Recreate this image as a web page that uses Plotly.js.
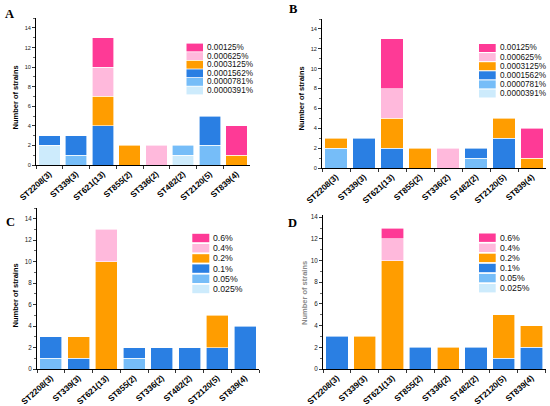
<!DOCTYPE html>
<html><head><meta charset="utf-8">
<script src="https://cdn.plot.ly/plotly-3.0.1.min.js"></script>
<style>html,body{margin:0;padding:0;background:#fff}#chart{width:550px;height:406px}</style>
</head><body><div id="chart"></div>
<script>
// ---- data ----
const categories = ['ST2208(3)','ST339(3)','ST621(13)','ST855(2)','ST336(2)','ST482(2)','ST2120(5)','ST839(4)'];
const labelsAB = ['0.0000391%','0.0000781%','0.0001562%','0.0003125%','0.000625%','0.00125%'];
const labelsCD = ['0.025%','0.05%','0.1%','0.2%','0.4%','0.6%'];
const panelLetters = ['A','B','C','D'];
const yTitle = 'Number of strains';

// Panel A (bottom to top series)
const a_0000391 = [2,0,0,0,0,1,0,0];
const a_0000781 = [0,1,0,0,0,1,2,0];
const a_0001562 = [1,2,4,0,0,0,3,0];
const a_0003125 = [0,0,3,2,0,0,0,1];
const a_000625  = [0,0,3,0,2,0,0,0];
const a_00125   = [0,0,3,0,0,0,0,3];
// Panel B
const b_0000391 = [0,0,0,0,0,0,0,0];
const b_0000781 = [2,0,0,0,0,1,0,0];
const b_0001562 = [0,3,2,0,0,1,3,0];
const b_0003125 = [1,0,3,2,0,0,2,1];
const b_000625  = [0,0,3,0,2,0,0,0];
const b_00125   = [0,0,5,0,0,0,0,3];
// Panel C
const c_025 = [0,0,0,0,0,0,0,0];
const c_05  = [1,0,0,1,0,0,0,0];
const c_1   = [2,1,0,1,2,2,2,4];
const c_2   = [0,2,10,0,0,0,3,0];
const c_4   = [0,0,3,0,0,0,0,0];
const c_6   = [0,0,0,0,0,0,0,0];
// Panel D
const d_025 = [0,0,0,0,0,0,0,0];
const d_05  = [0,0,0,0,0,0,0,0];
const d_1   = [3,0,0,2,0,2,1,2];
const d_2   = [0,3,10,0,2,0,4,2];
const d_4   = [0,0,2,0,0,0,0,0];
const d_6   = [0,0,1,0,0,0,0,0];

// ---- style ----
const colors = ['#CDEBFC','#76BDF8','#2A7FE3','#FF9D00','#FFB9DC','#FE3A96'];
const W = 550, H = 406;
const px = v => v / W, py = v => 1 - v / H;

const panels = [
  {series:[a_0000391,a_0000781,a_0001562,a_0003125,a_000625,a_00125], labels:labelsAB,
   xd:[36,250], yd:[165,18.2], yr:[0,15], tf:5.6,
   leg:{x0:186.5,x1:203,y:47.5,dy:8.6,h:7.8,tx:205.5,fs:8.2},
   title:{x:15,y:97.5,c:'#000'}, letter:{x:9,y:14.5}},
  {series:[b_0000391,b_0000781,b_0001562,b_0003125,b_000625,b_00125], labels:labelsAB,
   xd:[322,546], yd:[168,19], yr:[0,15], tf:5.6,
   leg:{x0:479,x1:495.7,y:48,dy:9.1,h:8,tx:499,fs:8.2},
   title:{x:301.5,y:99,c:'#000'}, letter:{x:292.5,y:9}},
  {series:[c_025,c_05,c_1,c_2,c_4,c_6], labels:labelsCD,
   xd:[37,259], yd:[369,208], yr:[0,15], tf:6.3,
   leg:{x0:192.3,x1:209.3,y:238,dy:10.2,h:8.4,tx:211.7,fs:8.7},
   title:{x:15,y:295.5,c:'#000'}, letter:{x:10,y:221.5}},
  {series:[d_025,d_05,d_1,d_2,d_4,d_6], labels:labelsCD,
   xd:[323,545.5], yd:[369,215], yr:[0,14.2], tf:6.3,
   leg:{x0:479,x1:495.7,y:237.7,dy:10.1,h:8.4,tx:499,fs:8.7},
   title:{x:304,y:293,c:'#888'}, letter:{x:292.5,y:223}}
];

const traces = [], shapes = [], annotations = [];
const layout = {
  width: W, height: H, margin:{l:0,r:0,t:0,b:0},
  paper_bgcolor:'#fff', plot_bgcolor:'#fff',
  barmode:'stack', bargap:0.2, showlegend:false,
  font:{family:'Liberation Sans, Arial, sans-serif', color:'#000'}
};

panels.forEach((p, i) => {
  const n = i === 0 ? '' : String(i + 1);
  p.series.forEach((vals, k) => {
    traces.push({
      type:'bar', x:categories, y:vals.map(v => v === 0 ? null : v),
      name:p.labels[k], xaxis:'x'+n, yaxis:'y'+n,
      marker:{color:colors[k], line:{color:'rgba(255,255,255,0.75)', width:0.8}},
      hoverinfo:'skip'
    });
  });
  layout['xaxis'+n] = {
    domain:[px(p.xd[0]), px(p.xd[1])], anchor:'y'+n, type:'category',
    categoryorder:'array', categoryarray:categories,
    range:[-0.5, categories.length - 0.5],
    showline:true, linecolor:'#000', linewidth:1, mirror:false,
    ticks:'outside', ticklen:3, tickwidth:0.8, tickcolor:'#000', tickson:'boundaries',
    tickangle:-42, tickfont:{size:8.3, weight:'bold', color:'#000'},
    showgrid:false, zeroline:false, fixedrange:true
  };
  layout['yaxis'+n] = {
    domain:[py(p.yd[0]), py(p.yd[1])], anchor:'x'+n, range:p.yr,
    showline:true, linecolor:'#000', linewidth:1,
    ticks:'outside', ticklen:3, tickwidth:0.8, tickcolor:'#000',
    dtick:2, tick0:0, tickfont:{size:p.tf, color:'#222'},
    minor:{dtick:1, ticks:'outside', ticklen:1.8, tickwidth:0.6, tickcolor:'#000'},
    showgrid:false, zeroline:false, fixedrange:true
  };
  // legend (drawn as shapes + texts, top entry = highest concentration)
  for (let r = 0; r < 6; r++) {
    const k = 5 - r;
    const cy = p.leg.y + r * p.leg.dy;
    shapes.push({type:'rect', xref:'paper', yref:'paper',
      x0:px(p.leg.x0), x1:px(p.leg.x1), y0:py(cy + p.leg.h/2), y1:py(cy - p.leg.h/2),
      fillcolor:colors[k], line:{width:0}});
    annotations.push({xref:'paper', yref:'paper', x:px(p.leg.tx), y:py(cy),
      xanchor:'left', yanchor:'middle', showarrow:false, text:p.labels[k],
      font:{size:p.leg.fs, color:'#111'}, borderpad:0});
  }
  annotations.push({xref:'paper', yref:'paper', x:px(p.title.x), y:py(p.title.y),
    xanchor:'center', yanchor:'middle', showarrow:false, text:yTitle, textangle:-90,
    font:{size:7.5, weight:'bold', color:p.title.c}, borderpad:0});
  annotations.push({xref:'paper', yref:'paper', x:px(p.letter.x), y:py(p.letter.y),
    xanchor:'center', yanchor:'middle', showarrow:false, text:panelLetters[i],
    font:{size:12.5, weight:'bold', family:'Liberation Serif, Times New Roman, serif', color:'#000'}, borderpad:0});
});
layout.shapes = shapes;
layout.annotations = annotations;

Plotly.newPlot('chart', traces, layout, {staticPlot:true, displayModeBar:false});
</script>
</body></html>
